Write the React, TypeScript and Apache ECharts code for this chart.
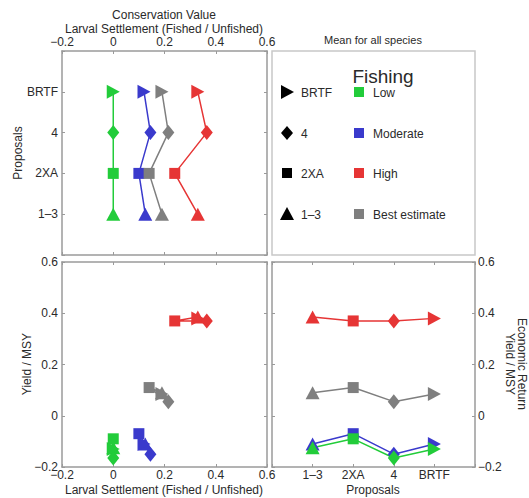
import React, { useEffect, useRef } from "react";
import * as echarts from "echarts";

const proposals = ["1–3", "2XA", "4", "BRTF"];
const fishingLevels = ["Low", "Moderate", "High", "Best estimate"];
const levelColors = ["#22cc3a", "#3a3acc", "#e63535", "#7f7f7f"];

// Larval settlement (Fished / Unfished), per proposal 1–3, 2XA, 4, BRTF
const larvalLow = [0, 0, 0, 0];
const larvalModerate = [0.125, 0.1, 0.145, 0.12];
const larvalHigh = [0.33, 0.24, 0.365, 0.33];
const larvalBest = [0.19, 0.14, 0.215, 0.19];

// Yield / MSY, per proposal 1–3, 2XA, 4, BRTF
const yieldLow = [-0.125, -0.09, -0.165, -0.13];
const yieldModerate = [-0.11, -0.07, -0.15, -0.11];
const yieldHigh = [0.385, 0.37, 0.37, 0.38];
const yieldBest = [0.09, 0.11, 0.055, 0.085];

const proposalSymbols = ["triangle", "rect", "diamond", "triangle"];
const proposalRotate = [0, 0, 0, -90];
const proposalSizes: any[] = [[14, 13], 11, [12, 15], [14, 13]];

const FONT = "Liberation Sans, Arial, Helvetica, sans-serif";
const FRAME = "#9a9a9a";
const TEXT = "#2a2a2a";

function fmtVal(v: number) {
  const r = Math.round(v * 10) / 10;
  if (r === 0) return "0";
  return r.toFixed(1).replace("-", "−");
}
function fmtProp(v: number) {
  const i = Math.round(v) - 1;
  return i >= 0 && i < proposals.length ? proposals[i] : "";
}

export default function App() {
  const ref = useRef<HTMLDivElement>(null);
  useEffect(() => {
    const chart = echarts.init(ref.current!, undefined, { renderer: "svg" });

    const larvalSets = [larvalLow, larvalModerate, larvalHigh, larvalBest];
    const yieldSets = [yieldLow, yieldModerate, yieldHigh, yieldBest];
    const drawOrder = [1, 0, 3, 2];

    const axisBase = (show: boolean) => ({
      axisLine: { show: true, onZero: false, lineStyle: { color: FRAME, width: 1.5 } },
      axisTick: { show: true, inside: true, length: 3, lineStyle: { color: FRAME } },
      splitLine: { show: false },
      axisLabel: {
        show,
        color: TEXT,
        fontSize: 12,
        fontFamily: FONT,
        margin: 4,
      },
    });

    const valueAxis = (gridIndex: number, position: string, show: boolean) => ({
      type: "value",
      gridIndex,
      position,
      min: -0.2,
      max: 0.6,
      interval: 0.2,
      ...axisBase(show),
      axisLabel: { ...axisBase(show).axisLabel, formatter: fmtVal },
    });
    const propAxis = (gridIndex: number, position: string, show: boolean) => ({
      type: "value",
      gridIndex,
      position,
      min: 0,
      max: 5,
      interval: 1,
      ...axisBase(show),
      axisLabel: { ...axisBase(show).axisLabel, formatter: fmtProp },
    });

    const xAxis: any[] = [
      valueAxis(0, "top", true), // 0
      valueAxis(0, "bottom", false), // 1
      valueAxis(1, "bottom", true), // 2
      valueAxis(1, "top", false), // 3
      propAxis(2, "bottom", true), // 4
      propAxis(2, "top", false), // 5
    ];
    const yAxis: any[] = [
      propAxis(0, "left", true), // 0
      propAxis(0, "right", false), // 1
      valueAxis(1, "left", true), // 2
      valueAxis(1, "right", false), // 3
      valueAxis(2, "right", true), // 4
      valueAxis(2, "left", false), // 5
    ];
    xAxis[0].axisLabel.margin = 3;
    xAxis[2].axisLabel.margin = 2;
    xAxis[4].axisLabel.margin = 2;
    yAxis[4].axisLabel.margin = 3;

    const makeData = (xs: number[], ys: number[]) =>
      xs.map((x, i) => ({
        value: [x, ys[i]],
        symbol: proposalSymbols[i],
        symbolRotate: proposalRotate[i],
        symbolSize: proposalSizes[i],
      }));

    const series: any[] = [];
    drawOrder.forEach((k) => {
      const color = levelColors[k];
      const common = {
        type: "line",
        name: fishingLevels[k],
        lineStyle: { color, width: 1.5 },
        itemStyle: { color },
        showSymbol: true,
        z: 3,
      };
      series.push({
        ...common,
        xAxisIndex: 0,
        yAxisIndex: 0,
        data: makeData(larvalSets[k], proposals.map((_, i) => i + 1)),
      });
      series.push({
        ...common,
        xAxisIndex: 2,
        yAxisIndex: 2,
        data: makeData(larvalSets[k], yieldSets[k]),
      });
      series.push({
        ...common,
        xAxisIndex: 4,
        yAxisIndex: 4,
        data: makeData(proposals.map((_, i) => i + 1), yieldSets[k]),
      });
    });

    const txt = (text: string, x: number, y: number, extra: any = {}) => ({
      type: "text",
      x,
      y,
      rotation: extra.rotation || 0,
      style: {
        text,
        fill: TEXT,
        font: `${extra.size || 12}px ${FONT}`,
        textAlign: extra.align || "center",
        textVerticalAlign: "middle",
      },
    });

    const legendRows = [92, 133, 173, 214];
    const legendProposals = ["BRTF", "4", "2XA", "1–3"];
    const legendLevels = [0, 1, 2, 3];
    const symX = 287;
    const graphic: any[] = [
      {
        type: "rect",
        shape: { x: 272, y: 51, width: 203, height: 204 },
        style: { fill: "none", stroke: "#c8c8c8", lineWidth: 1.5 },
      },
      txt("Conservation Value", 164, 15),
      txt("Larval Settlement (Fished / Unfished)", 164, 29),
      txt("Mean for all species", 373, 40, { size: 11 }),
      txt("Fishing", 383, 76, { size: 19 }),
      txt("Proposals", 18, 153, { rotation: Math.PI / 2 }),
      txt("Yield / MSY", 27, 364, { rotation: Math.PI / 2 }),
      txt("Larval Settlement (Fished / Unfished)", 164, 490),
      txt("Proposals", 373, 490),
      txt("Economic Return", 522, 364, { rotation: -Math.PI / 2 }),
      txt("Yield / MSY", 510, 364, { rotation: -Math.PI / 2 }),
      {
        type: "polygon",
        shape: { points: [[281, 85], [294, 92], [281, 99]] },
        style: { fill: "#000" },
      },
      {
        type: "polygon",
        shape: { points: [[symX, 126], [symX + 6, 133], [symX, 140], [symX - 6, 133]] },
        style: { fill: "#000" },
      },
      {
        type: "rect",
        shape: { x: symX - 5, y: 168, width: 10, height: 10 },
        style: { fill: "#000" },
      },
      {
        type: "polygon",
        shape: { points: [[280, 220], [symX, 207], [294, 220]] },
        style: { fill: "#000" },
      },
    ];
    legendRows.forEach((y, i) => {
      graphic.push(txt(legendProposals[i], 301, y + 1, { align: "left" }));
      graphic.push({
        type: "rect",
        shape: { x: 354, y: y - 5, width: 10, height: 10 },
        style: { fill: levelColors[legendLevels[i]] },
      });
      graphic.push(txt(fishingLevels[legendLevels[i]], 373, y + 1, { align: "left" }));
    });

    chart.setOption({
      animation: false,
      backgroundColor: "#fff",
      grid: [
        { left: 62, top: 51, width: 205, height: 204 },
        { left: 62, top: 262, width: 205, height: 205 },
        { left: 272, top: 262, width: 203, height: 205 },
      ],
      xAxis,
      yAxis,
      series,
      graphic,
    });
    return () => chart.dispose();
  }, []);
  return (
    <div
      ref={ref}
      style={{ position: "fixed", left: 0, top: 0, width: 529, height: 498 }}
    />
  );
}
